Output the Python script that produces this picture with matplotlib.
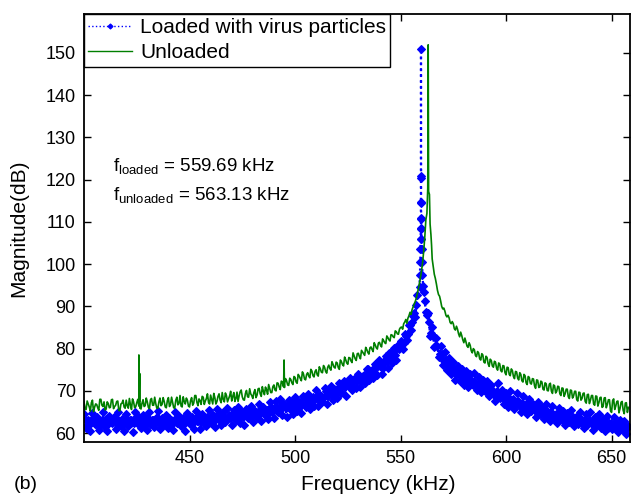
import numpy as np
import matplotlib
matplotlib.use("Agg")
import matplotlib.pyplot as plt

plt.rcParams['font.family'] = ['Liberation Sans', 'DejaVu Sans']
plt.rcParams['mathtext.fontset'] = 'custom'
plt.rcParams['mathtext.rm'] = 'Liberation Sans'
plt.rcParams['mathtext.it'] = 'Liberation Sans'

# ---- loaded with virus particles (blue) ----
blue_left_db = [  # 400 .. 558 kHz, whole kHz
    64.5, 61.2, 63.1, 60.5, 64.8, 62.1, 63.7, 60.8, 62.9, 65.0,
    61.5, 60.4, 64.0, 62.6, 63.9, 61.0, 65.1, 62.2, 63.3, 60.6,
    64.6, 61.8, 63.0, 60.3, 65.0, 62.5, 63.8, 61.1, 64.2, 62.0,
    60.7, 64.9, 63.2, 61.4, 62.7, 65.2, 60.9, 63.6, 62.3, 64.4,
    61.3, 63.0, 60.8, 65.1, 62.4, 64.0, 61.7, 63.5, 60.6, 64.8,
    62.2, 63.9, 61.0, 65.2, 62.8, 60.9, 64.6, 63.1, 61.6, 65.4,
    62.5, 64.3, 61.4, 65.6, 63.3, 61.9, 64.9, 62.7, 66.0, 63.6,
    61.9, 65.5, 63.0, 66.3, 62.4, 64.9, 62.0, 65.8, 63.7, 66.5,
    62.6, 65.2, 63.9, 67.0, 62.8, 66.1, 64.4, 63.3, 67.4, 64.9,
    63.5, 67.6, 65.0, 68.0, 64.2, 66.8, 63.9, 67.9, 65.6, 64.5,
    68.6, 65.3, 67.4, 64.7, 68.9, 66.2, 69.2, 65.8, 68.0, 66.5,
    70.1, 66.4, 69.0, 67.3, 70.6, 67.0, 69.8, 71.2, 67.9, 70.3,
    68.2, 71.9, 69.6, 72.4, 68.9, 71.3, 73.0, 70.2, 72.9, 70.6,
    74.1, 70.9, 73.6, 71.8, 75.2, 72.5, 74.8, 73.0, 76.4, 73.7,
    77.2, 74.0, 76.5, 78.3, 75.3, 79.0, 76.6, 80.1, 77.4, 80.8,
    81.9, 80.0, 83.4, 82.0, 85.6, 84.3, 87.8, 87.6, 92.8,
]
blue_left_half_db = [  # 400.5 .. 557.5 kHz
    63.3, 62.0, 62.9, 62.4, 63.6, 62.2, 62.8, 61.9, 63.1, 62.5,
    63.4, 62.1, 62.9, 62.5, 63.7, 62.3, 62.9, 61.8, 63.2, 62.6,
    63.4, 62.1, 63.0, 62.5, 63.7, 62.3, 62.9, 62.0, 63.2, 62.6,
    63.5, 62.2, 63.0, 62.6, 63.8, 62.4, 63.0, 62.0, 63.3, 62.7,
    63.6, 62.2, 63.1, 62.6, 63.9, 62.5, 63.1, 62.1, 63.4, 62.8,
    63.6, 62.3, 63.3, 62.8, 64.0, 62.7, 63.3, 62.5, 63.8, 63.2,
    64.1, 62.9, 63.9, 63.4, 64.6, 63.3, 63.8, 63.1, 64.4, 63.8,
    64.7, 63.5, 64.4, 63.9, 65.1, 63.9, 64.4, 63.6, 64.9, 64.3,
    65.3, 64.1, 65.1, 64.7, 65.9, 64.8, 65.4, 64.7, 66.1, 65.5,
    66.3, 65.2, 66.1, 65.8, 67.0, 65.9, 66.5, 65.8, 67.1, 66.5,
    67.4, 66.3, 67.3, 67.0, 68.3, 67.2, 67.9, 67.2, 68.6, 68.1,
    68.8, 67.8, 68.9, 68.6, 70.0, 68.9, 69.7, 69.0, 70.5, 70.0,
    70.7, 69.8, 71.1, 70.8, 72.2, 71.1, 71.9, 71.2, 72.7, 72.4,
    73.1, 72.4, 73.8, 73.5, 75.1, 74.1, 75.0, 74.5, 76.1, 75.9,
    76.0, 75.5, 77.2, 77.1, 78.9, 78.0, 79.1, 78.6, 80.4, 80.0,
    81.2, 81.3, 83.1, 83.5, 85.6, 86.3, 88.4, 90.3,
]
blue_peak_f = [559.0, 559.2, 559.35, 559.45, 559.55, 559.6, 559.63, 559.66, 559.68,
               559.69, 559.70, 559.72, 559.75, 559.8, 559.9, 560.0, 560.2, 560.4, 560.7]
blue_peak_db = [94.5, 97.5, 100.5, 103.5, 106.0, 108.3, 110.7, 114.4, 120.3,
                150.9, 120.8, 114.8, 111.0, 108.5, 106.0, 103.5, 100.5, 97.5, 94.8]
blue_right_db = [  # 561 .. 658 kHz
    93.4, 88.6, 88.5, 83.0, 85.1, 80.4, 82.6, 78.1, 80.6, 76.2,
    79.1, 75.0, 77.8, 74.1, 76.9, 72.6, 75.9, 72.3, 75.2, 71.4,
    74.7, 70.9, 73.9, 71.6, 74.3, 70.2, 73.2, 69.7, 72.6, 70.0,
    72.4, 68.7, 71.5, 69.9, 67.6, 71.8, 68.3, 70.2, 66.9, 69.5,
    66.3, 70.0, 67.2, 65.6, 69.4, 66.8, 64.9, 68.7, 66.0, 64.6,
    68.1, 65.2, 66.9, 63.8, 67.4, 64.5, 66.2, 63.4, 66.8, 64.0,
    62.9, 66.5, 64.1, 62.4, 66.0, 63.5, 65.3, 61.9, 64.8, 62.6,
    65.4, 61.6, 63.9, 62.2, 65.1, 63.0, 61.3, 64.6, 62.5, 64.9,
    60.8, 63.7, 62.0, 64.5, 61.2, 63.4, 60.5, 64.1, 62.3, 60.9,
    63.8, 61.5, 60.2, 63.2, 61.0, 62.9, 59.9, 61.7,
]
blue_right_half_db = [  # 561.5 .. 657.5 kHz
    91.2, 87.9, 86.4, 83.6, 82.9, 80.7, 80.6, 78.8, 78.7, 77.1,
    77.3, 76.0, 76.2, 74.9, 75.1, 73.9, 74.3, 73.2, 73.6, 72.5,
    73.2, 72.0, 72.6, 71.4, 72.0, 70.9, 71.5, 70.4, 71.1, 70.1,
    70.8, 69.6, 70.2, 69.0, 69.9, 68.5, 69.3, 68.2, 68.7, 67.6,
    68.4, 67.3, 68.0, 66.9, 67.6, 66.5, 67.1, 66.0, 66.8, 65.8,
    66.7, 65.6, 66.2, 65.1, 65.9, 64.7, 65.5, 64.3, 65.2, 64.1,
    65.0, 63.9, 64.6, 63.6, 64.4, 63.2, 64.1, 62.9, 63.9, 62.8,
    63.8, 62.7, 63.5, 62.4, 63.3, 62.2, 63.1, 62.0, 63.0, 62.2,
    63.0, 61.9, 62.8, 61.6, 62.6, 61.5, 62.4, 61.3, 62.3, 61.4,
    62.4, 61.2, 62.1, 60.9, 61.9, 60.8, 61.3,
]

# ---- unloaded (green) ----
green_left_db = [  # 400 .. 562 kHz
    67.5, 65.6, 66.9, 65.2, 67.8, 66.1, 66.8, 65.4, 68.0, 66.3,
    65.5, 67.4, 66.0, 67.9, 65.8, 66.6, 67.6, 65.3, 67.1, 66.2,
    67.8, 65.9, 66.7, 68.1, 66.0, 67.2, 66.4, 65.7, 67.9, 66.5,
    67.4, 65.8, 68.2, 66.6, 67.0, 65.9, 68.3, 66.8, 67.5, 66.0,
    68.4, 66.7, 67.2, 65.9, 68.5, 67.0, 66.4, 68.6, 66.9, 67.8,
    66.2, 68.4, 67.1, 68.9, 66.5, 67.7, 68.7, 66.8, 68.2, 67.3,
    69.0, 66.9, 68.4, 67.5, 69.3, 67.2, 68.0, 69.5, 67.4, 68.8,
    67.6, 69.6, 68.2, 67.5, 69.8, 68.6, 67.8, 70.1, 68.5, 69.3,
    68.2, 70.3, 69.0, 70.6, 68.7, 69.9, 70.9, 69.2, 70.5, 69.6,
    71.4, 70.0, 71.8, 70.3, 72.1, 70.8, 72.4, 71.3, 72.7, 71.5,
    73.2, 71.8, 73.5, 72.4, 74.0, 72.6, 74.3, 73.1, 74.7, 73.3,
    75.0, 73.5, 75.2, 74.3, 75.6, 74.2, 76.1, 74.9, 76.3, 75.4,
    76.6, 75.1, 76.9, 75.9, 77.4, 76.3, 77.8, 76.7, 78.3, 77.2,
    78.9, 77.6, 79.2, 78.4, 79.8, 78.7, 80.4, 79.3, 80.9, 79.9,
    81.5, 80.4, 81.9, 81.2, 82.6, 81.8, 83.2, 82.6, 84.0, 83.4,
    85.0, 84.6, 86.3, 86.0, 87.8, 88.1, 89.9,
    91.2, 93.1, 95.6, 98.6, 103.2, 110.5,
]
green_left_half_db = [  # 400.5 .. 561.5 kHz
    65.6, 67.6, 66.2, 67.2, 65.1, 66.9, 66.0, 68.0, 66.6, 67.4,
    65.7, 67.0, 66.1, 68.0, 66.3, 67.5, 65.4, 66.9, 67.8, 65.9,
    66.5, 68.2, 65.6, 67.4, 66.2, 68.0, 65.9, 67.1, 66.3, 68.3,
    66.1, 67.9, 66.6, 68.5, 65.9, 67.4, 66.5, 68.4, 66.2, 67.7,
    66.3, 68.5, 66.0, 67.8, 66.7, 68.9, 66.2, 67.5, 68.3, 66.4,
    67.7, 66.6, 68.9, 67.3, 68.1, 66.8, 68.5, 67.6, 69.3, 66.9,
    68.0, 69.4, 66.9, 68.7, 67.8, 69.6, 67.4, 68.9, 68.1, 69.9,
    68.7, 67.5, 69.7, 68.8, 70.2, 67.9, 69.4, 68.6, 70.5, 68.9,
    69.6, 68.4, 70.5, 69.3, 71.0, 69.1, 70.2, 71.5, 69.6, 71.0,
    70.2, 71.9, 70.9, 72.3, 71.0, 72.9, 71.4, 73.0, 71.9, 73.4,
    72.1, 73.9, 72.9, 74.5, 72.8, 73.9, 73.5, 75.1, 73.6, 74.6,
    73.8, 75.7, 74.4, 76.0, 74.6, 75.6, 75.3, 76.9, 75.6, 76.8,
    75.5, 77.3, 76.2, 78.0, 76.6, 77.9, 77.1, 79.0, 77.6, 78.8,
    78.1, 79.6, 78.8, 80.3, 79.1, 80.2, 79.8, 81.4, 80.2, 81.3,
    80.8, 82.3, 81.4, 83.0, 82.1, 83.3, 82.8, 84.2, 83.5, 84.6,
    85.1, 85.9, 86.9, 87.2, 88.6, 89.3, 90.6,
    92.0, 94.3, 97.0, 100.6, 106.5,
]
green_peak_f = [562.5, 562.9, 563.1, 563.3, 563.7, 564.0, 564.4, 564.7]
green_peak_db = [112.0, 118.0, 151.9, 117.2, 116.5, 109.5, 107.0, 104.5]
green_right_db = [  # 565 .. 658 kHz
    101.2, 97.6, 95.3, 92.8, 91.3, 89.4, 88.9, 87.5, 87.3, 85.9,
    85.9, 84.4, 84.6, 82.8, 83.1, 81.4, 81.6, 80.3, 80.8, 79.0,
    79.7, 78.1, 79.0, 77.3, 78.5, 76.6, 77.9, 75.8, 77.2, 75.6,
    76.8, 74.9, 76.4, 74.5, 75.9, 73.8, 75.5, 73.6, 74.8, 72.9,
    74.5, 72.6, 73.9, 72.1, 73.6, 71.5, 73.2, 71.6, 72.8, 70.6,
    72.5, 70.9, 72.1, 70.2, 71.7, 70.0, 71.8, 69.4, 71.2, 69.9,
    71.0, 68.9, 70.6, 69.3, 70.4, 68.2, 70.1, 68.8, 69.9, 67.6,
    69.6, 68.2, 69.5, 67.1, 69.2, 67.8, 68.9, 66.6, 68.7, 67.2,
    68.5, 66.3, 68.4, 66.8, 67.9, 64.9, 68.1, 66.4, 67.6, 65.8,
    67.5, 64.6, 67.2, 66.1,
]
green_right_half_db = [  # 565.5 .. 657.5 kHz
    99.4, 96.6, 93.8, 92.4, 90.0, 89.6, 87.9, 87.9, 86.2, 86.4,
    84.7, 85.3, 83.5, 83.9, 82.1, 82.5, 80.6, 81.4, 79.5, 80.0,
    78.4, 79.3, 77.6, 78.8, 76.8, 78.2, 76.4, 77.5, 75.9, 77.0,
    75.4, 76.6, 74.8, 76.0, 74.3, 75.6, 73.9, 75.2, 73.4, 74.6,
    73.0, 74.3, 72.4, 73.9, 71.9, 73.4, 71.8, 72.9, 71.2, 72.6,
    70.8, 72.3, 70.4, 71.9, 70.1, 71.6, 69.9, 71.4, 69.5, 71.1,
    69.3, 70.7, 68.7, 70.4, 68.6, 70.2, 68.3, 69.9, 67.9, 69.7,
    67.8, 69.4, 67.5, 69.1, 67.0, 68.9, 66.9, 68.8, 66.4, 68.4,
    66.1, 68.3, 66.0, 67.9, 65.3, 67.7, 65.6, 67.5, 64.8, 67.3,
    65.4, 67.1, 64.9,
]
spike_f = [425.8, 426.0, 426.2, 426.4, 426.6, 494.6, 494.8, 495.0]
spike_db = [67.0, 78.5, 67.3, 74.1, 66.8, 71.4, 77.3, 71.8]


def merge(parts):
    f = np.concatenate([p[0] for p in parts]).astype(float)
    db = np.concatenate([p[1] for p in parts]).astype(float)
    order = np.argsort(f, kind="stable")
    return f[order], db[order]


blue_f, blue_db = merge([(np.arange(400, 559), blue_left_db),
                         (np.arange(400.5, 558), blue_left_half_db),
                         (blue_peak_f, blue_peak_db),
                         (np.arange(561, 659), blue_right_db),
                         (np.arange(561.5, 658), blue_right_half_db)])
green_f, green_db = merge([(np.arange(400, 563), green_left_db),
                           (np.arange(400.5, 562), green_left_half_db),
                           (green_peak_f, green_peak_db),
                           (np.arange(565, 659), green_right_db),
                           (np.arange(565.5, 658), green_right_half_db),
                           (spike_f, spike_db)])

fig = plt.figure(figsize=(6.31, 4.97), dpi=100)
ax = fig.add_axes([84 / 631, 55 / 497, 545.5 / 631, 428 / 497])

ax.plot(blue_f, blue_db, color="#0000ff", linestyle=":", linewidth=1.6,
        marker="D", markersize=4.3, markeredgewidth=0.8, label="Loaded with virus particles")
ax.plot(green_f, green_db, color="#007f00", linestyle="-", linewidth=1.2, label="Unloaded")

ax.set_xlim(400, 658.5)
ax.set_ylim(57.9, 159.2)
ax.set_xticks([450, 500, 550, 600, 650])
ax.set_yticks(np.arange(60, 151, 10))
ax.tick_params(direction="in", top=True, right=True, length=5, width=1, labelsize=13, pad=6)
for s in ax.spines.values():
    s.set_linewidth(1.3)

ax.set_xlabel("Frequency (kHz)", fontsize=15)
ax.xaxis.set_label_coords(0.539, -0.077)
ax.set_ylabel("Magnitude(dB)", fontsize=15)
ax.yaxis.set_label_coords(-0.103, 0.5)

fig.text(113 / 631, 1 - 171 / 497, r"f$_{\mathrm{loaded}}$ = 559.69 kHz", fontsize=13.5, va="baseline")
fig.text(113 / 631, 1 - 200 / 497, r"f$_{\mathrm{unloaded}}$ = 563.13 kHz", fontsize=13.5, va="baseline")
fig.text(14 / 631, 1 - 489 / 497, "(b)", fontsize=14, va="baseline")

leg = ax.legend(loc="upper left", bbox_to_anchor=(0, 1), borderaxespad=0, fancybox=False,
                edgecolor="black", framealpha=1, fontsize=15, handlelength=2.1,
                borderpad=0.2, labelspacing=0.3, handletextpad=0.4, markerscale=0.6)
leg.get_frame().set_linewidth(1.0)
for h in leg.get_lines():
    h.set_linewidth(1.0)

fig.savefig("out.png", dpi=100)
